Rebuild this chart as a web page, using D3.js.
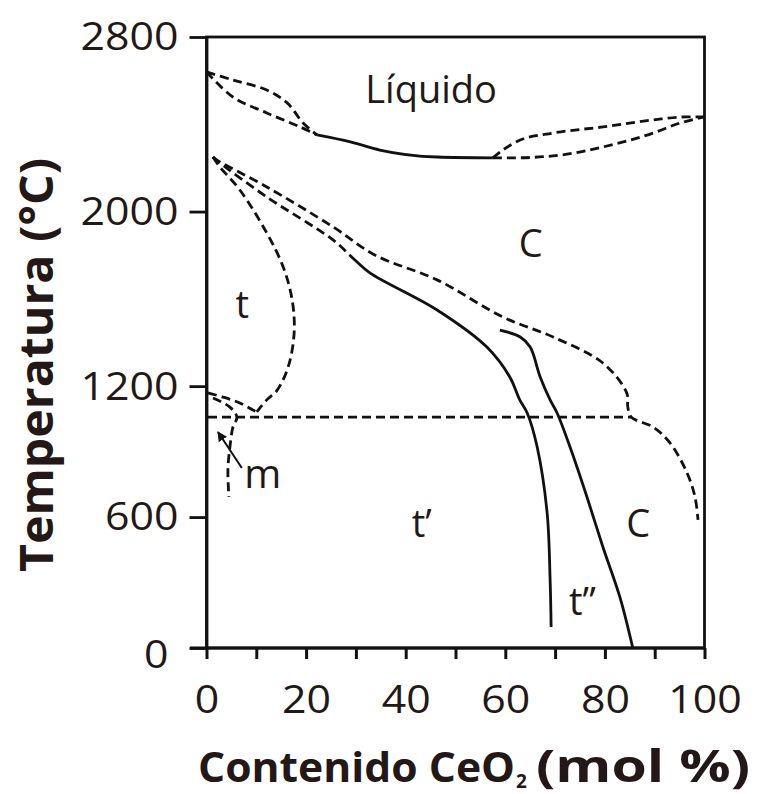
<!DOCTYPE html>
<html>
<head>
<meta charset="utf-8">
<script src="https://cdn.jsdelivr.net/npm/d3@7"></script>
<style>
html,body{margin:0;padding:0;background:#fff;}
svg{display:block;}
text{font-family:"Open Sans","Noto Sans",sans-serif;}
</style>
</head>
<body>
<svg id="chart" width="757" height="794"></svg>
<script>
// ---------- data (CeO2 mol %, temperature °C) ----------
const xTickValues = [0,10,20,30,40,50,60,70,80,90,100];
const xTickLabels = ["0","","20","","40","","60","","80","","100"];
const yTickValues = [0,600,1200,2000,2800];
const yTickLabels = ["0","600","1200","2000","2800"];

const liquidusLeftUpper = [[0,2640],[5.3,2603],[12.1,2557],[16.2,2498],[19.4,2406],[22.2,2351]];
const liquidusLeftLower = [[0,2640],[5.3,2525],[12.1,2452],[18.8,2388],[22.2,2351]];
const liquidusSolid     = [[22.2,2351],[28.9,2319],[34.8,2282],[46.3,2250],[57.5,2246]];
const liquidusRightUpper= [[57.5,2246],[59.5,2282],[63.0,2328],[69.6,2360],[79.6,2388],[89.7,2420],[96.5,2434],[100,2434]];
const liquidusRightLower= [[57.5,2246],[61.0,2246],[69.6,2255],[79.6,2296],[89.7,2360],[95.1,2406],[100,2434]];

const cubicBoundary = [[1.3,2250],[2.1,2236],[12.1,2113],[25.4,1930],[33.8,1801],[46.3,1687],[59.5,1517],[69.6,1425],[79.6,1306],[84.4,1168],[84.6,1104],[85.3,1058],[89.7,1012],[93.1,939],[96.5,802],[98.1,692],[98.7,587]];
// t' / c boundary: dashed above the split composition, solid below
const tPrimeBoundary = [[1.3,2250],[2.7,2223],[12.1,2067],[25.4,1870],[29.8,1778],[32.8,1719],[46.3,1549],[56.3,1379],[60.9,1242],[62.9,1137],[64.4,1077],[66.4,921],[68.4,619],[69.0,312],[69.2,96]];
const tPrimeDashedUntil = 29.8;
const tDome         = [[1.3,2250],[2.7,2204],[6.7,2099],[12.1,1902],[15.4,1746],[17.2,1595],[17.6,1444],[16.4,1288],[14.2,1182],[12.1,1137],[10.1,1082]];
const tDomeLeft     = [[0.3,1169],[3.3,1150],[6.7,1123],[9.3,1091],[10.1,1082]];
const mBoundary     = [[1.3,1146],[4.7,1104],[6.1,1058],[5.3,1012],[4.7,921],[4.3,816],[4.5,692]];
const eutectoid     = [[0.3,1058],[85.3,1058]];
const tDoublePrime  = [[58.9,1457],[63.0,1425],[65.0,1379],[67.0,1242],[69.0,1137],[70.4,1077],[73.0,921],[76.4,692],[79.6,463],[83.0,234],[85.6,0]];

const regionLabels = ["Líquido","C","t","t\u2019","C","t\u201D"];
const regionLabelAt = [[45.1,2498],[65.1,1792],[7.2,1512],[43.2,509],[86.7,509],[75.5,151]];
const mLabel = "m";
const mLabelAt = [7.6,733];
const mArrow = [[7.1,825],[2.3,990]];

const xTitleMain = "Contenido CeO";
const xTitleSub = "2";
const xTitleEnd = "(mol %)";
const yTitle = "Temperatura (°C)";

// ---------- drawing ----------
const svg = d3.select("#chart");
const ink = "#111";
const txt = "#231815";

const x = d3.scaleLinear().domain([0,100]).range([206.5,704.5]);
const y = d3.scaleLinear().domain([0,2800]).range([648,37]);

const line = d3.line().x(d=>x(d[0])).y(d=>y(d[1])).curve(d3.curveCatmullRom.alpha(0.5));
const monoLine = d3.line().x(d=>x(d[0])).y(d=>y(d[1])).curve(d3.curveMonotoneX);
const straight = d3.line().x(d=>x(d[0])).y(d=>y(d[1]));

// frame
svg.append("rect")
  .attr("x", x(0)).attr("y", y(2800))
  .attr("width", x(100)-x(0)).attr("height", y(0)-y(2800))
  .attr("fill","none").attr("stroke",ink).attr("stroke-width",2.8);

// axes
const xAxis = d3.axisBottom(x).tickValues(xTickValues)
  .tickFormat((d,i)=>xTickLabels[i]).tickSize(11).tickSizeOuter(0);
const gx = svg.append("g").attr("transform",`translate(0,${y(0)})`).call(xAxis);
gx.select(".domain").attr("stroke",ink).attr("stroke-width",2.8).attr("d",`M190,0H${x(100)}`);
gx.selectAll(".tick line").attr("stroke",ink).attr("stroke-width",3);
gx.selectAll(".tick text")
  .attr("y",65).attr("dy",0)
  .attr("font-size",38).attr("fill",txt)
  .attr("textLength",(d,i)=>xTickLabels[i].length*24.5)
  .attr("lengthAdjust","spacingAndGlyphs");

const yAxis = d3.axisLeft(y).tickValues(yTickValues)
  .tickFormat((d,i)=>yTickLabels[i]).tickSize(17).tickPadding(11).tickSizeOuter(0);
const gy = svg.append("g").attr("transform",`translate(${x(0)},0)`).call(yAxis);
gy.select(".domain").attr("stroke",ink).attr("stroke-width",2.8);
gy.selectAll(".tick line").attr("stroke",ink).attr("stroke-width",2.8);
gy.selectAll(".tick text")
  .attr("font-size",38).attr("fill",txt).attr("dy","0.34em")
  .attr("textLength",(d,i)=>yTickLabels[i].length*24.5)
  .attr("lengthAdjust","spacingAndGlyphs");
gy.selectAll(".tick").filter(d=>d===0).select("text").attr("dx",-10).attr("dy","0.5em");
svg.selectAll(".tick text").attr("font-family","'Open Sans', sans-serif");

// curves
function draw(data, dashed, gen){
  return svg.append("path").datum(data)
    .attr("d", gen || line)
    .attr("fill","none").attr("stroke",ink)
    .attr("stroke-width",2.8)
    .attr("stroke-linecap","butt")
    .attr("stroke-dasharray", dashed ? "9,5" : null);
}
draw(liquidusLeftUpper,true);
draw(liquidusLeftLower,true);
draw(liquidusSolid,false,monoLine);
draw(liquidusRightUpper,true,monoLine);
draw(liquidusRightLower,true,monoLine);
draw(cubicBoundary,true);
draw(tDome,true);
draw(tDomeLeft,true);
draw(mBoundary,true);
draw(eutectoid,true,straight);
draw(tDoublePrime,false);

// t' boundary: one smooth curve, dashed for its first part then solid
const tpPath = draw(tPrimeBoundary,false);
const splitIdx = tPrimeBoundary.findIndex(d=>d[0]===tPrimeDashedUntil);
const tmp = svg.append("path").attr("d", line(tPrimeBoundary.slice(0, splitIdx+1)));
const dashLen = tmp.node().getTotalLength();
tmp.remove();
const total = tpPath.node().getTotalLength();
const pattern = [];
let acc = 0;
while (acc + 14 <= dashLen) { pattern.push(9,5); acc += 14; }
pattern.push(dashLen - acc + 0.01, 0.01, total, 0);
tpPath.attr("stroke-dasharray", pattern.join(","));

// region labels
svg.append("g").selectAll("text").data(regionLabels).join("text")
  .attr("x",(d,i)=>x(regionLabelAt[i][0]))
  .attr("y",(d,i)=>y(regionLabelAt[i][1]))
  .attr("text-anchor","middle")
  .attr("font-size",38).attr("fill",txt)
  .text(d=>d);

svg.append("text")
  .attr("x",x(mLabelAt[0])).attr("y",y(mLabelAt[1]))
  .attr("font-size",40).attr("fill",txt).text(mLabel);

// arrow to m region
const defs = svg.append("defs");
defs.append("marker").attr("id","ah").attr("viewBox","0 0 10 10")
  .attr("refX",9).attr("refY",5).attr("markerWidth",5).attr("markerHeight",5)
  .attr("orient","auto")
  .append("path").attr("d","M0,0L10,5L0,10Z").attr("fill",ink);
svg.append("path").datum(mArrow).attr("d",straight)
  .attr("stroke",ink).attr("stroke-width",2).attr("fill","none")
  .attr("marker-end","url(#ah)");

// axis titles
const xt = svg.append("g").attr("fill",txt).attr("font-weight",700);
xt.append("text").attr("x",198).attr("y",782).attr("font-size",42)
  .attr("textLength",317).attr("lengthAdjust","spacingAndGlyphs").text(xTitleMain);
xt.append("text").attr("x",516).attr("y",788).attr("font-size",19).text(xTitleSub);
xt.append("text").attr("x",536).attr("y",782).attr("font-size",44)
  .attr("textLength",214).attr("lengthAdjust","spacingAndGlyphs").text(xTitleEnd);

svg.append("text")
  .attr("transform","translate(53,365) rotate(-90)")
  .attr("text-anchor","middle")
  .attr("font-size",47).attr("font-weight",700).attr("fill",txt)
  .attr("textLength",414).attr("lengthAdjust","spacingAndGlyphs")
  .text(yTitle);
</script>
</body>
</html>
